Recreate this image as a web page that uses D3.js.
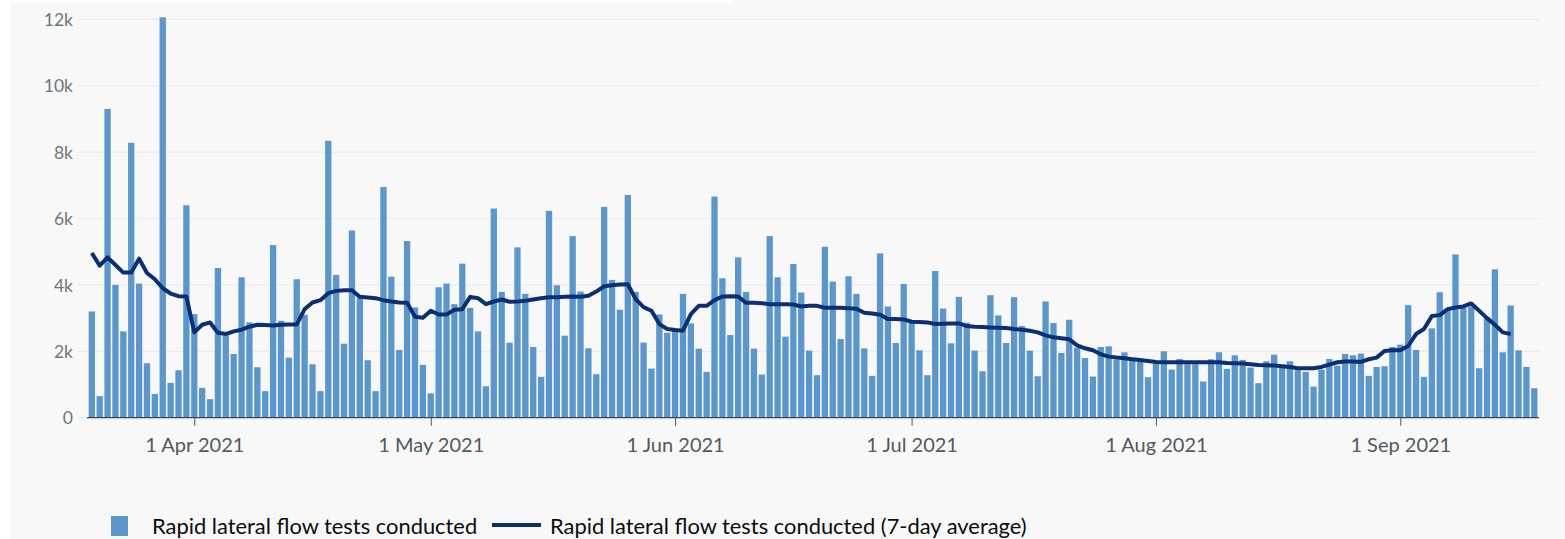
<!DOCTYPE html>
<html>
<head>
<meta charset="utf-8">
<script src="https://cdn.jsdelivr.net/npm/d3@7"></script>
<style>
  html, body { margin: 0; padding: 0; background: #ffffff; }
  svg { display: block; }
</style>
</head>
<body>
<svg id="chart" width="1565" height="539"></svg>
<script>
// ---------------- DATA ----------------
const startDate = "2021-03-19"; // first bar (daily categories)
const dailyTests = [
  3200, 650, 9300, 4000, 2600, 8280, 4040, 1640, 715, 12060,
  1050, 1430, 6400, 3120, 900, 560, 4510, 2470, 1920, 4230,
  2870, 1520, 800, 5200, 2920, 1810, 4170, 3100, 1610, 800,
  8340, 4300, 2230, 5640, 3600, 1730, 800, 6950, 4250, 2040,
  5320, 3320, 1590, 735, 3930, 4040, 3420, 4640, 3310, 2600,
  946, 6300, 3790, 2260, 5130, 3730, 2130, 1230, 6230, 3990,
  2470, 5470, 3800, 2090, 1310, 6350, 4150, 3250, 6710, 3790,
  2260, 1480, 3110, 2560, 2650, 3730, 2840, 2080, 1380, 6660,
  4200, 2490, 4830, 3790, 2080, 1300, 5470, 4230, 2440, 4630,
  3770, 2020, 1280, 5150, 4100, 2370, 4260, 3730, 2090, 1260,
  4950, 3350, 2250, 4030, 2850, 2030, 1280, 4420, 3290, 2240,
  3640, 2860, 2020, 1400, 3690, 3080, 2250, 3630, 2760, 2020,
  1250, 3500, 2850, 1950, 2950, 2110, 1800, 1240, 2130, 2150,
  1750, 1970, 1810, 1690, 1220, 1630, 2000, 1450, 1770, 1610,
  1610, 1090, 1760, 1970, 1470, 1880, 1740, 1510, 1040, 1700,
  1900, 1580, 1700, 1430, 1380, 936, 1450, 1770, 1570, 1920,
  1880, 1930, 1260, 1530, 1550, 2130, 2200, 3390, 2040, 1230,
  2690, 3780, 3250, 4920, 3320, 3350, 1490, 3020, 4470, 1970,
  3380, 2030, 1530, 886
];
const rollingAverage = [
  4960, 4580, 4830, 4600, 4370, 4370, 4790, 4360, 4170, 3900,
  3740, 3660, 3650, 2570, 2800, 2870, 2560, 2520, 2600, 2650,
  2740, 2800, 2790, 2780, 2800, 2810, 2810, 3270, 3470, 3540,
  3750, 3820, 3840, 3840, 3640, 3620, 3600, 3540, 3500, 3470,
  3460, 3040, 3010, 3220, 3110, 3110, 3250, 3270, 3640, 3600,
  3420, 3500, 3560, 3490, 3500, 3520, 3560, 3600, 3630, 3630,
  3640, 3650, 3640, 3670, 3800, 3960, 3990, 4010, 4020, 3570,
  3330, 3220, 2820, 2670, 2640, 2620, 3120, 3370, 3370, 3540,
  3650, 3660, 3650, 3460, 3460, 3450, 3420, 3420, 3420, 3410,
  3350, 3370, 3370, 3310, 3310, 3310, 3300, 3280, 3160, 3140,
  3100, 2970, 2970, 2960, 2890, 2880, 2870, 2820, 2830, 2840,
  2840, 2760, 2740, 2730, 2720, 2710, 2700, 2670, 2650, 2620,
  2570, 2480, 2420, 2390, 2360, 2180, 2090, 2030, 1910, 1840,
  1810, 1790, 1760, 1740, 1710, 1680, 1670, 1670, 1670, 1670,
  1670, 1670, 1670, 1670, 1650, 1640, 1630, 1610, 1590, 1580,
  1570, 1550, 1530, 1490, 1490, 1490, 1530, 1600, 1670, 1690,
  1690, 1680, 1760, 1810, 2010, 2030, 2030, 2160, 2520, 2670,
  3060, 3090, 3270, 3320, 3350, 3440, 3220, 3000, 2800, 2570,
  2520
];
const yTicks = [0, 2000, 4000, 6000, 8000, 10000, 12000];
const yTickLabels = ["0", "2k", "4k", "6k", "8k", "10k", "12k"];
const xTickDates = ["2021-04-01", "2021-05-01", "2021-06-01", "2021-07-01", "2021-08-01", "2021-09-01"];
const legendLabels = ["Rapid lateral flow tests conducted", "Rapid lateral flow tests conducted (7-day average)"];

// ---------------- SETUP ----------------
const parse = d3.utcParse("%Y-%m-%d");
const start = parse(startDate);
const barData = dailyTests.map((v, i) => ({ date: d3.utcDay.offset(start, i), value: v }));
const lineData = rollingAverage.map((v, i) => ({ date: d3.utcDay.offset(start, i), value: v }));

const barColor = "#5b97cc";
const lineColor = "#0b2f74";
const font = "Lato, 'Noto Sans', sans-serif";

const svg = d3.select("#chart");

// background
svg.append("rect").attr("x", 0).attr("y", 0).attr("width", 1565).attr("height", 539).attr("fill", "#ffffff");
svg.append("rect").attr("x", 11).attr("y", 0).attr("width", 1554).attr("height", 539).attr("fill", "#f8f8f8");
svg.append("rect").attr("x", 0).attr("y", 0).attr("width", 732).attr("height", 3).attr("fill", "#ffffff");

const x = d3.scaleUtc()
  .domain([barData[0].date, barData[barData.length - 1].date])
  .range([91.8, 1534.3]);
const y = d3.scaleLinear().domain([0, 12000]).range([417.7, 19.3]);

const dayW = x(d3.utcDay.offset(start, 1)) - x(start);
const barW = dayW * 0.8;

// gridlines
svg.append("g")
  .selectAll("line")
  .data(yTicks)
  .join("line")
  .attr("x1", 78).attr("x2", 1539)
  .attr("y1", d => y(d)).attr("y2", d => y(d))
  .attr("stroke", "#ebebeb").attr("stroke-width", 1.2);

// y axis labels
const yAxis = d3.axisLeft(y)
  .tickValues(yTicks)
  .tickFormat((d, i) => yTickLabels[i])
  .tickSize(0)
  .tickPadding(0);
const yg = svg.append("g").attr("transform", "translate(73,0)").call(yAxis);
yg.select(".domain").remove();
yg.selectAll("text")
  .attr("font-family", font).attr("font-size", 17.5)
  .attr("fill", "#6f777b").attr("dy", "0.35em");

// bars
svg.append("g")
  .selectAll("rect")
  .data(barData)
  .join("rect")
  .attr("x", d => x(d.date) - barW / 2)
  .attr("width", barW)
  .attr("y", d => y(d.value))
  .attr("height", d => y(0) - y(d.value))
  .attr("fill", barColor);

// x axis
const xAxis = d3.axisBottom(x)
  .tickValues(xTickDates.map(parse))
  .tickFormat(d3.utcFormat("%-d %b %Y"))
  .tickSize(8)
  .tickPadding(12);
const xg = svg.append("g").attr("transform", `translate(0,${y(0)})`).call(xAxis);
xg.select(".domain").remove();
xg.selectAll(".tick line").attr("stroke", "#555").attr("stroke-width", 1);
xg.selectAll("text")
  .attr("font-family", font).attr("font-size", 20)
  .attr("fill", "#505a5f");
svg.append("line")
  .attr("x1", 87).attr("x2", 1539)
  .attr("y1", y(0)).attr("y2", y(0))
  .attr("stroke", "#444").attr("stroke-width", 1.3);

// line
const line = d3.line().x(d => x(d.date)).y(d => y(d.value));
svg.append("path")
  .datum(lineData)
  .attr("d", line)
  .attr("fill", "none")
  .attr("stroke", lineColor)
  .attr("stroke-width", 4)
  .attr("stroke-linejoin", "round")
  .attr("stroke-linecap", "butt");

// legend
const lg = svg.append("g");
lg.append("rect").attr("x", 111).attr("y", 516).attr("width", 17).attr("height", 20).attr("fill", barColor);
lg.append("text").attr("x", 152).attr("y", 526).attr("dy", "0.35em")
  .attr("font-family", font).attr("font-size", 21.9).attr("fill", "#0b0c0c")
  .text(legendLabels[0]);
lg.append("line").attr("x1", 492).attr("x2", 541).attr("y1", 525).attr("y2", 525)
  .attr("stroke", lineColor).attr("stroke-width", 4);
lg.append("text").attr("x", 550).attr("y", 526).attr("dy", "0.35em")
  .attr("font-family", font).attr("font-size", 21.9).attr("fill", "#0b0c0c")
  .text(legendLabels[1]);
</script>
</body>
</html>
